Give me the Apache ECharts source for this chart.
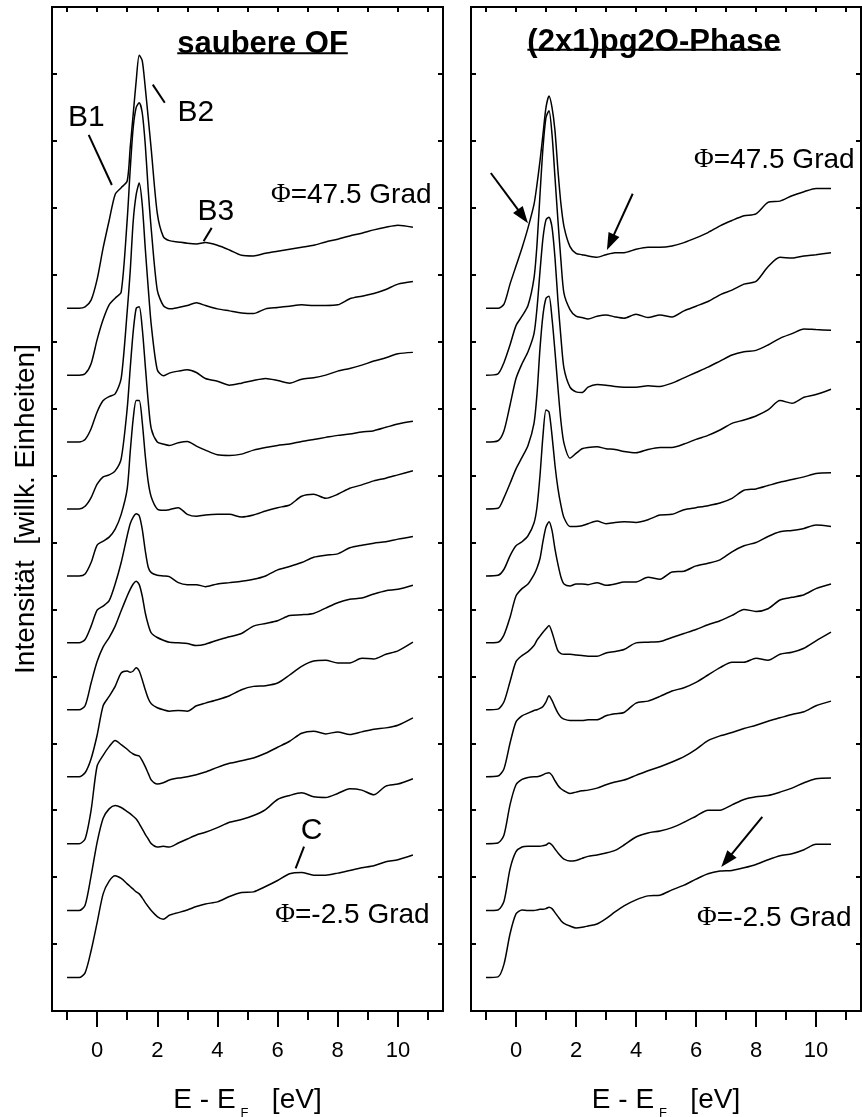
<!DOCTYPE html>
<html>
<head>
<meta charset="utf-8">
<script src="https://cdn.jsdelivr.net/npm/echarts@6/dist/echarts.min.js"></script>
<style>
  html, body { margin: 0; padding: 0; background: #fff; }
  #chart { width: 862px; height: 1117px; }
</style>
</head>
<body>
<div id="chart"></div>
<script>
// ---- energy grids (E - E_F, eV) ----
const energyClean = [-1.0,-0.6,-0.4,-0.2,0,0.2,0.4,0.6,0.8,1.0,1.1,1.2,1.3,1.4,1.5,1.6,1.7,1.8,2.0,2.2,2.4,2.7,3.0,3.3,3.6,4.0,4.4,4.8,5.2,5.6,6.0,6.4,6.8,7.2,7.6,8.0,8.4,8.8,9.2,9.6,10.0,10.5];
const energyPhase = [-1.0,-0.6,-0.4,-0.2,0,0.2,0.4,0.6,0.7,0.8,0.9,1.0,1.1,1.2,1.3,1.4,1.5,1.6,1.8,2.0,2.2,2.4,2.7,3.0,3.3,3.6,4.0,4.4,4.8,5.2,5.6,6.0,6.4,6.8,7.2,7.6,8.0,8.4,8.8,9.2,9.6,10.0,10.5];

// emission angles (Grad), top spectrum first, and the vertical offset of each spectrum
const angles  = [47.5, 42.5, 37.5, 32.5, 27.5, 22.5, 17.5, 12.5, 7.5, 2.5, -2.5];
const offsets = [10.5, 9.5, 8.5, 7.5, 6.5, 5.5, 4.5, 3.5, 2.5, 1.5, 0.5];

// ---- clean surface (saubere OF), intensities relative to each baseline ----
const clean_47_5 = [0,0,0.02,0.12,0.43,0.90,1.31,1.70,1.80,1.90,2.40,2.90,3.40,3.78,3.70,3.30,2.84,2.37,1.42,1.07,1.01,0.99,0.97,0.96,0.98,0.94,0.87,0.79,0.78,0.82,0.85,0.88,0.91,0.94,0.99,1.03,1.08,1.12,1.17,1.21,1.24,1.21];
const clean_42_5 = [0,0,0.02,0.17,0.53,0.83,1.05,1.15,1.24,2.32,3.07,3.70,4.00,4.07,3.92,3.45,2.76,2.18,1.27,1.04,0.99,1.01,1.04,1.08,1.04,0.99,0.96,0.93,0.92,0.99,1.01,1.03,1.05,1.04,1.04,1.05,1.14,1.18,1.22,1.28,1.36,1.40];
const clean_37_5 = [0,0,0.04,0.20,0.45,0.62,0.68,0.72,0.95,1.95,2.55,3.30,3.70,3.87,3.55,2.90,2.30,1.75,1.08,0.99,1.03,1.06,1.08,1.04,0.95,0.91,0.85,0.88,0.92,0.95,0.92,0.88,0.94,0.96,1.00,1.06,1.10,1.15,1.21,1.26,1.32,1.34];
const clean_32_5 = [0,0,0.04,0.17,0.37,0.48,0.51,0.57,0.75,1.50,2.10,2.65,3.00,3.02,2.70,2.15,1.60,1.20,1.00,0.97,0.95,0.99,1.01,0.94,0.88,0.81,0.80,0.82,0.88,0.92,0.95,0.97,1.01,1.04,1.07,1.10,1.12,1.15,1.17,1.22,1.27,1.31];
const clean_27_5 = [0,0,0.03,0.20,0.46,0.52,0.58,0.70,0.92,1.30,1.85,2.35,2.62,2.62,2.30,1.80,1.40,1.18,1.00,0.98,0.99,1.02,0.92,0.89,0.91,0.92,0.92,0.88,0.91,0.97,1.02,1.06,1.19,1.22,1.16,1.22,1.31,1.36,1.42,1.46,1.51,1.57];
const clean_22_5 = [0,0,0.05,0.25,0.49,0.55,0.63,0.88,1.20,1.60,1.78,1.88,1.93,1.90,1.70,1.38,1.13,1.05,1.01,1.00,0.99,0.90,0.87,0.87,0.84,0.88,0.90,0.92,0.95,1.00,1.09,1.14,1.20,1.28,1.31,1.33,1.42,1.46,1.49,1.51,1.55,1.59];
const clean_17_5 = [0,0,0.06,0.40,0.72,0.94,1.08,1.25,1.48,1.70,1.80,1.88,1.92,1.87,1.70,1.45,1.27,1.15,1.08,1.04,1.01,1.00,0.99,0.96,0.98,1.04,1.09,1.14,1.25,1.29,1.33,1.41,1.42,1.44,1.52,1.60,1.65,1.67,1.73,1.78,1.80,1.86];
const clean_12_5 = [0,0,0.06,0.27,0.62,1.06,1.20,1.35,1.55,1.58,1.56,1.58,1.63,1.58,1.45,1.30,1.17,1.09,1.03,1.00,0.98,0.99,0.98,1.06,1.10,1.15,1.21,1.30,1.35,1.36,1.40,1.52,1.65,1.73,1.74,1.70,1.70,1.77,1.76,1.83,1.88,2.01];
const clean_7_5  = [0,0,0.07,0.50,1.16,1.32,1.45,1.54,1.48,1.41,1.37,1.34,1.32,1.31,1.24,1.15,1.05,0.95,0.89,0.91,0.95,0.98,1.00,1.03,1.07,1.14,1.20,1.24,1.28,1.35,1.44,1.53,1.65,1.68,1.64,1.67,1.63,1.67,1.71,1.73,1.77,1.88];
const clean_2_5  = [0,0,0.08,0.52,1.02,1.38,1.52,1.57,1.54,1.48,1.45,1.41,1.37,1.30,1.22,1.14,1.07,1.00,0.95,0.96,0.95,1.01,1.07,1.13,1.17,1.24,1.32,1.36,1.42,1.51,1.66,1.72,1.76,1.70,1.69,1.75,1.82,1.80,1.73,1.86,1.89,1.97];
const clean_m2_5 = [0,0,0.07,0.40,0.82,1.25,1.44,1.52,1.48,1.40,1.36,1.32,1.28,1.25,1.19,1.12,1.06,1.00,0.91,0.87,0.93,0.97,1.01,1.06,1.10,1.13,1.21,1.27,1.28,1.36,1.45,1.55,1.57,1.53,1.53,1.56,1.60,1.64,1.67,1.73,1.76,1.83];

// ---- (2x1)pg2O phase ----
const phase_47_5 = [0,0,0.06,0.36,0.63,0.90,1.20,1.55,1.85,2.20,2.60,3.00,3.17,3.00,2.65,2.05,1.55,1.22,0.92,0.82,0.80,0.78,0.76,0.80,0.83,0.83,0.88,0.91,0.91,0.93,0.98,1.05,1.13,1.23,1.31,1.38,1.41,1.58,1.60,1.68,1.74,1.79,1.79];
const phase_42_5 = [0,0.02,0.19,0.45,0.74,0.88,1.04,1.45,1.95,2.70,3.40,3.85,3.95,3.60,2.95,2.30,1.70,1.22,0.98,0.88,0.86,0.84,0.88,0.90,0.87,0.85,0.91,0.86,0.90,0.87,0.96,1.03,1.10,1.20,1.27,1.36,1.40,1.62,1.76,1.75,1.78,1.80,1.83];
const phase_37_5 = [0,0.02,0.17,0.55,0.95,1.17,1.35,1.62,2.00,2.55,3.05,3.32,3.36,3.21,2.75,2.10,1.55,1.10,0.82,0.75,0.74,0.82,0.86,0.85,0.83,0.82,0.82,0.84,0.83,0.88,0.96,1.04,1.12,1.21,1.30,1.35,1.37,1.45,1.55,1.62,1.69,1.68,1.67];
const phase_32_5 = [0,0.01,0.17,0.38,0.60,0.77,0.95,1.28,1.72,2.40,2.90,3.15,3.18,2.85,2.35,1.80,1.30,0.98,0.76,0.83,0.90,0.92,0.93,0.90,0.89,0.86,0.84,0.89,0.92,0.92,0.97,1.04,1.10,1.18,1.28,1.33,1.39,1.48,1.62,1.58,1.67,1.71,1.79];
const phase_27_5 = [0,0.01,0.10,0.30,0.45,0.51,0.60,0.79,1.03,1.50,2.10,2.48,2.45,2.10,1.65,1.30,1.05,0.87,0.74,0.74,0.75,0.78,0.82,0.78,0.80,0.81,0.80,0.84,0.91,0.92,0.99,1.02,1.05,1.09,1.16,1.28,1.30,1.35,1.40,1.44,1.48,1.53,1.54];
const phase_22_5 = [0,0.01,0.12,0.38,0.70,0.81,0.88,1.02,1.12,1.26,1.52,1.73,1.81,1.68,1.40,1.17,0.98,0.88,0.85,0.88,0.88,0.87,0.90,0.86,0.88,0.91,0.91,0.98,0.95,1.06,1.07,1.15,1.19,1.24,1.36,1.45,1.50,1.59,1.66,1.68,1.71,1.76,1.74];
const phase_17_5 = [0,0.01,0.12,0.42,0.72,0.81,0.87,0.96,1.04,1.10,1.16,1.21,1.26,1.16,1.01,0.88,0.84,0.83,0.83,0.82,0.81,0.80,0.80,0.85,0.87,0.90,1.00,1.01,1.02,1.08,1.14,1.20,1.27,1.33,1.41,1.50,1.47,1.51,1.64,1.68,1.72,1.81,1.88];
const phase_12_5 = [0,0.01,0.12,0.50,0.82,0.91,0.95,0.99,1.00,1.02,1.05,1.12,1.21,1.14,1.04,0.95,0.89,0.86,0.84,0.84,0.84,0.85,0.85,0.91,0.94,0.96,1.10,1.13,1.20,1.28,1.33,1.41,1.52,1.63,1.71,1.71,1.77,1.74,1.83,1.86,1.92,2.03,2.16];
const phase_7_5  = [0,0.01,0.13,0.58,0.88,0.96,0.99,1.00,1.00,1.01,1.03,1.05,1.06,1.02,0.94,0.87,0.82,0.79,0.75,0.77,0.79,0.80,0.83,0.88,0.92,0.95,1.02,1.09,1.15,1.22,1.30,1.41,1.54,1.61,1.66,1.72,1.77,1.83,1.88,1.93,1.97,2.06,2.13];
const phase_2_5  = [0,0.01,0.14,0.62,0.88,0.95,0.96,0.96,0.96,0.96,0.97,0.98,1.01,0.98,0.92,0.86,0.81,0.77,0.74,0.75,0.78,0.81,0.83,0.86,0.90,0.98,1.10,1.16,1.19,1.24,1.32,1.41,1.50,1.50,1.58,1.66,1.70,1.72,1.77,1.83,1.91,1.97,1.98];
const phase_m2_5 = [0,0.01,0.20,0.65,0.95,1.01,1.00,1.00,1.01,1.02,1.02,1.03,1.05,1.03,0.97,0.91,0.85,0.81,0.77,0.74,0.75,0.77,0.80,0.88,0.98,1.07,1.16,1.22,1.23,1.31,1.38,1.47,1.55,1.59,1.60,1.64,1.69,1.76,1.82,1.85,1.91,1.99,1.99];

const cleanSpectra = [clean_47_5, clean_42_5, clean_37_5, clean_32_5, clean_27_5, clean_22_5, clean_17_5, clean_12_5, clean_7_5, clean_2_5, clean_m2_5];
const phaseSpectra = [phase_47_5, phase_42_5, phase_37_5, phase_32_5, phase_27_5, phase_22_5, phase_17_5, phase_12_5, phase_7_5, phase_2_5, phase_m2_5];

// ---- axis ticks ----
const xMajorTicks = [0, 2, 4, 6, 8, 10];
const xMinorTicks = [-1, 1, 3, 5, 7, 9, 11];
const xTopTicks   = [-1, 0, 1, 2, 3, 4, 5, 6, 7, 8, 9, 10, 11];

// ---- texts ----
const panelTitles = ['saubere OF', '(2x1)pg2O-Phase'];
const yAxisTitle = 'Intensität  [willk. Einheiten]';

const FONT = '"Liberation Sans", Arial, Helvetica, sans-serif';
const SERIF = '"Liberation Serif", "Times New Roman", serif';
const BLACK = '#000';

const chart = echarts.init(document.getElementById('chart'), null, { renderer: 'canvas' });

function spectrumSeries(energy, spectra, g, tag) {
  return spectra.map((vals, k) => ({
    type: 'line',
    name: tag + ' ' + angles[k],
    xAxisIndex: g * 3,
    yAxisIndex: g * 2,
    data: energy.map((e, i) => [e, offsets[k] + vals[i]]),
    showSymbol: false,
    symbol: 'none',
    smooth: 0.25,
    lineStyle: { color: BLACK, width: 1.5 },
    silent: true,
    animation: false,
    z: 3
  }));
}

function xAxesFor(g) {
  const base = {
    gridIndex: g, type: 'value', min: -1.5, max: 11.5,
    splitLine: { show: false },
    axisLine: { show: false, onZero: false }
  };
  const tickLine = { color: BLACK, width: 2 };
  return [
    Object.assign({}, base, {
      position: 'bottom',
      axisTick: { show: true, inside: false, length: 16, customValues: xMajorTicks, lineStyle: tickLine },
      axisLabel: { show: true, customValues: xMajorTicks, margin: 29, fontSize: 22, fontFamily: FONT, color: BLACK },
      name: '{m|E - E}{s|F}{m|   [eV]}',
      nameLocation: 'middle',
      nameGap: 70,
      nameTextStyle: {
        rich: {
          m: { fontSize: 28, fontFamily: FONT, color: BLACK },
          s: { fontSize: 13, fontFamily: FONT, color: BLACK, padding: [26, 0, 0, 5] }
        }
      }
    }),
    Object.assign({}, base, {
      position: 'bottom',
      axisTick: { show: true, inside: false, length: 9, customValues: xMinorTicks, lineStyle: tickLine },
      axisLabel: { show: false }
    }),
    Object.assign({}, base, {
      position: 'top',
      axisTick: { show: true, inside: true, length: 5, customValues: xTopTicks, lineStyle: tickLine },
      axisLabel: { show: false }
    })
  ];
}

function yAxesFor(g) {
  const base = {
    gridIndex: g, type: 'value', min: 0, max: 15, interval: 1,
    splitLine: { show: false },
    axisLine: { show: false, onZero: false },
    axisLabel: { show: false },
    axisTick: { show: true, inside: true, length: 5, lineStyle: { color: BLACK, width: 2 } }
  };
  const left = Object.assign({}, base, { position: 'left' });
  if (g === 0) {
    Object.assign(left, {
      name: yAxisTitle,
      nameLocation: 'middle',
      nameRotate: 90,
      nameGap: 12,
      nameTextStyle: { fontSize: 28, fontFamily: FONT, color: BLACK }
    });
  }
  return [left, Object.assign({}, base, { position: 'right' })];
}

const gridStyle = {
  show: true, borderColor: BLACK, borderWidth: 2, backgroundColor: 'transparent',
  containLabel: false, outerBoundsMode: 'none'
};

chart.setOption({
  animation: false,
  backgroundColor: '#fff',
  grid: [
    Object.assign({ left: 52, top: 7, width: 391, height: 1004 }, gridStyle),
    Object.assign({ left: 471, top: 7, width: 390, height: 1004 }, gridStyle)
  ],
  xAxis: xAxesFor(0).concat(xAxesFor(1)),
  yAxis: yAxesFor(0).concat(yAxesFor(1)),
  series: spectrumSeries(energyClean, cleanSpectra, 0, 'clean')
    .concat(spectrumSeries(energyPhase, phaseSpectra, 1, 'phase'))
});

// ---- annotations, placed in data coordinates of each panel ----
const titleAnchors = [
  { g: 0, at: [5.5, 14.44], under: 14.31 },
  { g: 1, at: [4.6, 14.47], under: 14.36 }
];
const angleLabels = [
  { g: 0, text: '=47.5 Grad', at: [8.45, 12.19] },
  { g: 0, text: '=-2.5 Grad', at: [8.49, 1.43] },
  { g: 1, text: '=47.5 Grad', at: [8.61, 12.71] },
  { g: 1, text: '=-2.5 Grad', at: [8.61, 1.39] }
];
const featureLabels = [
  { g: 0, text: 'B1', at: [-0.36, 13.34], from: [-0.28, 13.09], to: [0.49, 12.34] },
  { g: 0, text: 'B2', at: [3.28, 13.42],  from: [1.85, 13.84],  to: [2.25, 13.57] },
  { g: 0, text: 'B3', at: [3.95, 11.94],  from: [3.81, 11.70],  to: [3.54, 11.50] },
  { g: 0, text: 'C',  at: [7.13, 2.69],   from: [6.88, 2.455],  to: [6.60, 2.13] }
];
const arrows = [
  { g: 1, from: [-0.84, 12.52], to: [0.40, 11.77] },
  { g: 1, from: [3.89, 12.21],  to: [3.03, 11.37] },
  { g: 1, from: [8.21, 2.90],   to: [6.84, 2.15] }
];

function toPx(g, p) {
  return chart.convertToPixel({ xAxisIndex: g * 3, yAxisIndex: g * 2 }, p);
}

const measureCtx = document.createElement('canvas').getContext('2d');
function textWidth(font, s) { measureCtx.font = font; return measureCtx.measureText(s).width; }

const graphics = [];
const TITLE_FONT = 'bold 31px "Liberation Sans", Arial, sans-serif';
titleAnchors.forEach((t, i) => {
  const c = toPx(t.g, t.at);
  const uy = toPx(t.g, [t.at[0], t.under])[1];
  const w = textWidth(TITLE_FONT, panelTitles[i]);
  graphics.push({
    type: 'text', x: c[0], y: c[1], z: 10,
    style: { text: panelTitles[i], font: TITLE_FONT, fill: BLACK, align: 'center', verticalAlign: 'middle' }
  });
  graphics.push({
    type: 'line', z: 10,
    shape: { x1: c[0] - w / 2, y1: uy, x2: c[0] + w / 2, y2: uy },
    style: { stroke: BLACK, lineWidth: 2 }
  });
});

angleLabels.forEach(l => {
  const c = toPx(l.g, l.at);
  graphics.push({
    type: 'text', x: c[0], y: c[1], z: 10,
    style: {
      text: '{p|Φ}{t|' + l.text + '}',
      align: 'center', verticalAlign: 'middle',
      rich: {
        p: { fontFamily: SERIF, fontSize: 27, fill: BLACK },
        t: { fontFamily: FONT, fontSize: 28, fill: BLACK }
      }
    }
  });
});

featureLabels.forEach(l => {
  const c = toPx(l.g, l.at), a = toPx(l.g, l.from), b = toPx(l.g, l.to);
  graphics.push({
    type: 'text', x: c[0], y: c[1], z: 10,
    style: { text: l.text, fontFamily: FONT, fontSize: 30, fill: BLACK, align: 'center', verticalAlign: 'middle' }
  });
  graphics.push({
    type: 'line', z: 10,
    shape: { x1: a[0], y1: a[1], x2: b[0], y2: b[1] },
    style: { stroke: BLACK, lineWidth: 2 }
  });
});

arrows.forEach(ar => {
  const a = toPx(ar.g, ar.from), b = toPx(ar.g, ar.to);
  const dx = b[0] - a[0], dy = b[1] - a[1], L = Math.hypot(dx, dy);
  const ux = dx / L, uy = dy / L, head = 17, half = 6;
  const base = [b[0] - ux * head, b[1] - uy * head];
  graphics.push({
    type: 'line', z: 10,
    shape: { x1: a[0], y1: a[1], x2: base[0] + ux * 2, y2: base[1] + uy * 2 },
    style: { stroke: BLACK, lineWidth: 2 }
  });
  graphics.push({
    type: 'polygon', z: 10,
    shape: { points: [b, [base[0] - uy * half, base[1] + ux * half], [base[0] + uy * half, base[1] - ux * half]] },
    style: { fill: BLACK }
  });
});

chart.setOption({ graphic: graphics });
</script>
</body>
</html>
